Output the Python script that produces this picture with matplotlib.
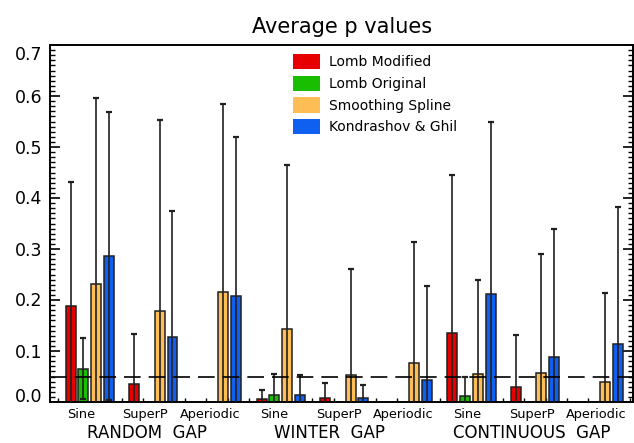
import numpy as np
import matplotlib
matplotlib.use('Agg')
import matplotlib.pyplot as plt
from matplotlib.patches import Patch

# categories
signals = ['Sine', 'SuperP', 'Aperiodic'] * 3
gaps = ['RANDOM  GAP', 'WINTER  GAP', 'CONTINUOUS  GAP']
methods = ['Lomb Modified', 'Lomb Original', 'Smoothing Spline', 'Kondrashov & Ghil']
colors = ['#e60000', '#19be00', '#ffbe55', '#0f5ff0']

# average p values, one entry per gap/signal group
lomb_mod = [0.188, 0.035, 0.0, 0.005, 0.007, 0.0, 0.136, 0.029, 0.0]
lomb_orig = [0.065, 0.0, 0.0, 0.014, 0.0, 0.0, 0.012, 0.0, 0.0]
spline = [0.231, 0.178, 0.216, 0.144, 0.052, 0.076, 0.054, 0.057, 0.040]
kg = [0.286, 0.127, 0.207, 0.014, 0.007, 0.044, 0.212, 0.088, 0.114]

# standard deviations (error bars)
lomb_mod_err = [0.244, 0.098, 0.0, 0.018, 0.030, 0.0, 0.309, 0.103, 0.0]
lomb_orig_err = [0.060, 0.0, 0.0, 0.040, 0.0, 0.0, 0.037, 0.0, 0.0]
spline_err = [0.366, 0.374, 0.368, 0.321, 0.209, 0.238, 0.186, 0.233, 0.174]
kg_err = [0.283, 0.248, 0.313, 0.039, 0.026, 0.183, 0.338, 0.251, 0.269]

values = [lomb_mod, lomb_orig, spline, kg]
errors = [lomb_mod_err, lomb_orig_err, spline_err, kg_err]

fig = plt.figure(figsize=(6.34, 4.43), dpi=100)
ax = fig.add_axes([50 / 634, 41 / 443, 583 / 634, 357 / 443])

groups = np.arange(9)
for j in range(4):
    v = np.array(values[j])
    e = np.array(errors[j])
    x = 3 * groups + 0.6 + 0.6 * j
    keep = v > 0
    ax.bar(x[keep], v[keep], width=0.47, color=colors[j], edgecolor='#202020',
           linewidth=1.1, zorder=2)
    ax.errorbar(x[keep], v[keep], yerr=e[keep], fmt='none', ecolor='#202020',
                elinewidth=1.2, capsize=2.3, capthick=1.6, zorder=3)

ax.axhline(0.05, color='k', lw=1.2, dashes=(10, 4.8), zorder=4)

ax.set_xlim(-0.377, 27.12)
ax.set_ylim(0, 0.7)
ax.set_xticks(np.arange(0, 28))
ax.set_xticklabels([])
ax.set_yticks(np.arange(0, 0.71, 0.1))
ax.set_yticks(np.arange(0, 0.701, 0.01), minor=True)
ax.set_yticklabels([])
ax.tick_params(axis='x', direction='in', length=3, width=1, top=False)
ax.tick_params(axis='y', which='major', direction='in', length=7.5, width=1.2,
               left=True, right=True)
ax.tick_params(axis='y', which='minor', direction='in', length=3.8, width=1,
               left=True, right=True)
ax.tick_params(axis='x', which='minor', bottom=False)
for s in ax.spines.values():
    s.set_linewidth(1.4)

# y tick labels
for t in np.arange(0, 8):
    val = t / 10
    va, dy = 'center', -1.5
    if t == 0:
        va, dy = 'baseline', 0
    elif t == 7:
        va, dy = 'top', -1
    ax.annotate('%.1f' % val, xy=(0, val), xycoords=('axes fraction', 'data'),
                xytext=(-8, dy), textcoords='offset pixels', ha='right', va=va,
                fontsize=12.5)

# signal labels
label_pos = 1.08 + 3.04 * groups
for xp, name in zip(label_pos, signals):
    ax.annotate(name, xy=(xp, 0), xycoords=('data', 'axes fraction'),
                xytext=(0, -16), textcoords='offset pixels', ha='center',
                va='baseline', fontsize=9.3)

# gap labels
gap_px = [146.7, 330, 532]
for px, name in zip(gap_px, gaps):
    fig.text(px / 634, 1 / 443, name, ha='center', va='bottom',
             fontsize=12)

fig.text(342 / 634, 1 - 33 / 443, 'Average p values', ha='center',
         va='baseline', fontsize=15)

handles = [Patch(facecolor=c, edgecolor='none') for c in colors]
fig.legend(handles, methods, loc='upper left',
           bbox_to_anchor=(293 / 634, 1 - 54 / 443), frameon=False,
           borderpad=0, borderaxespad=0, fontsize=10, handlelength=1.94,
           handleheight=1.3, handletextpad=0.67, labelspacing=0.47)

fig.savefig('out.png', dpi=100)
